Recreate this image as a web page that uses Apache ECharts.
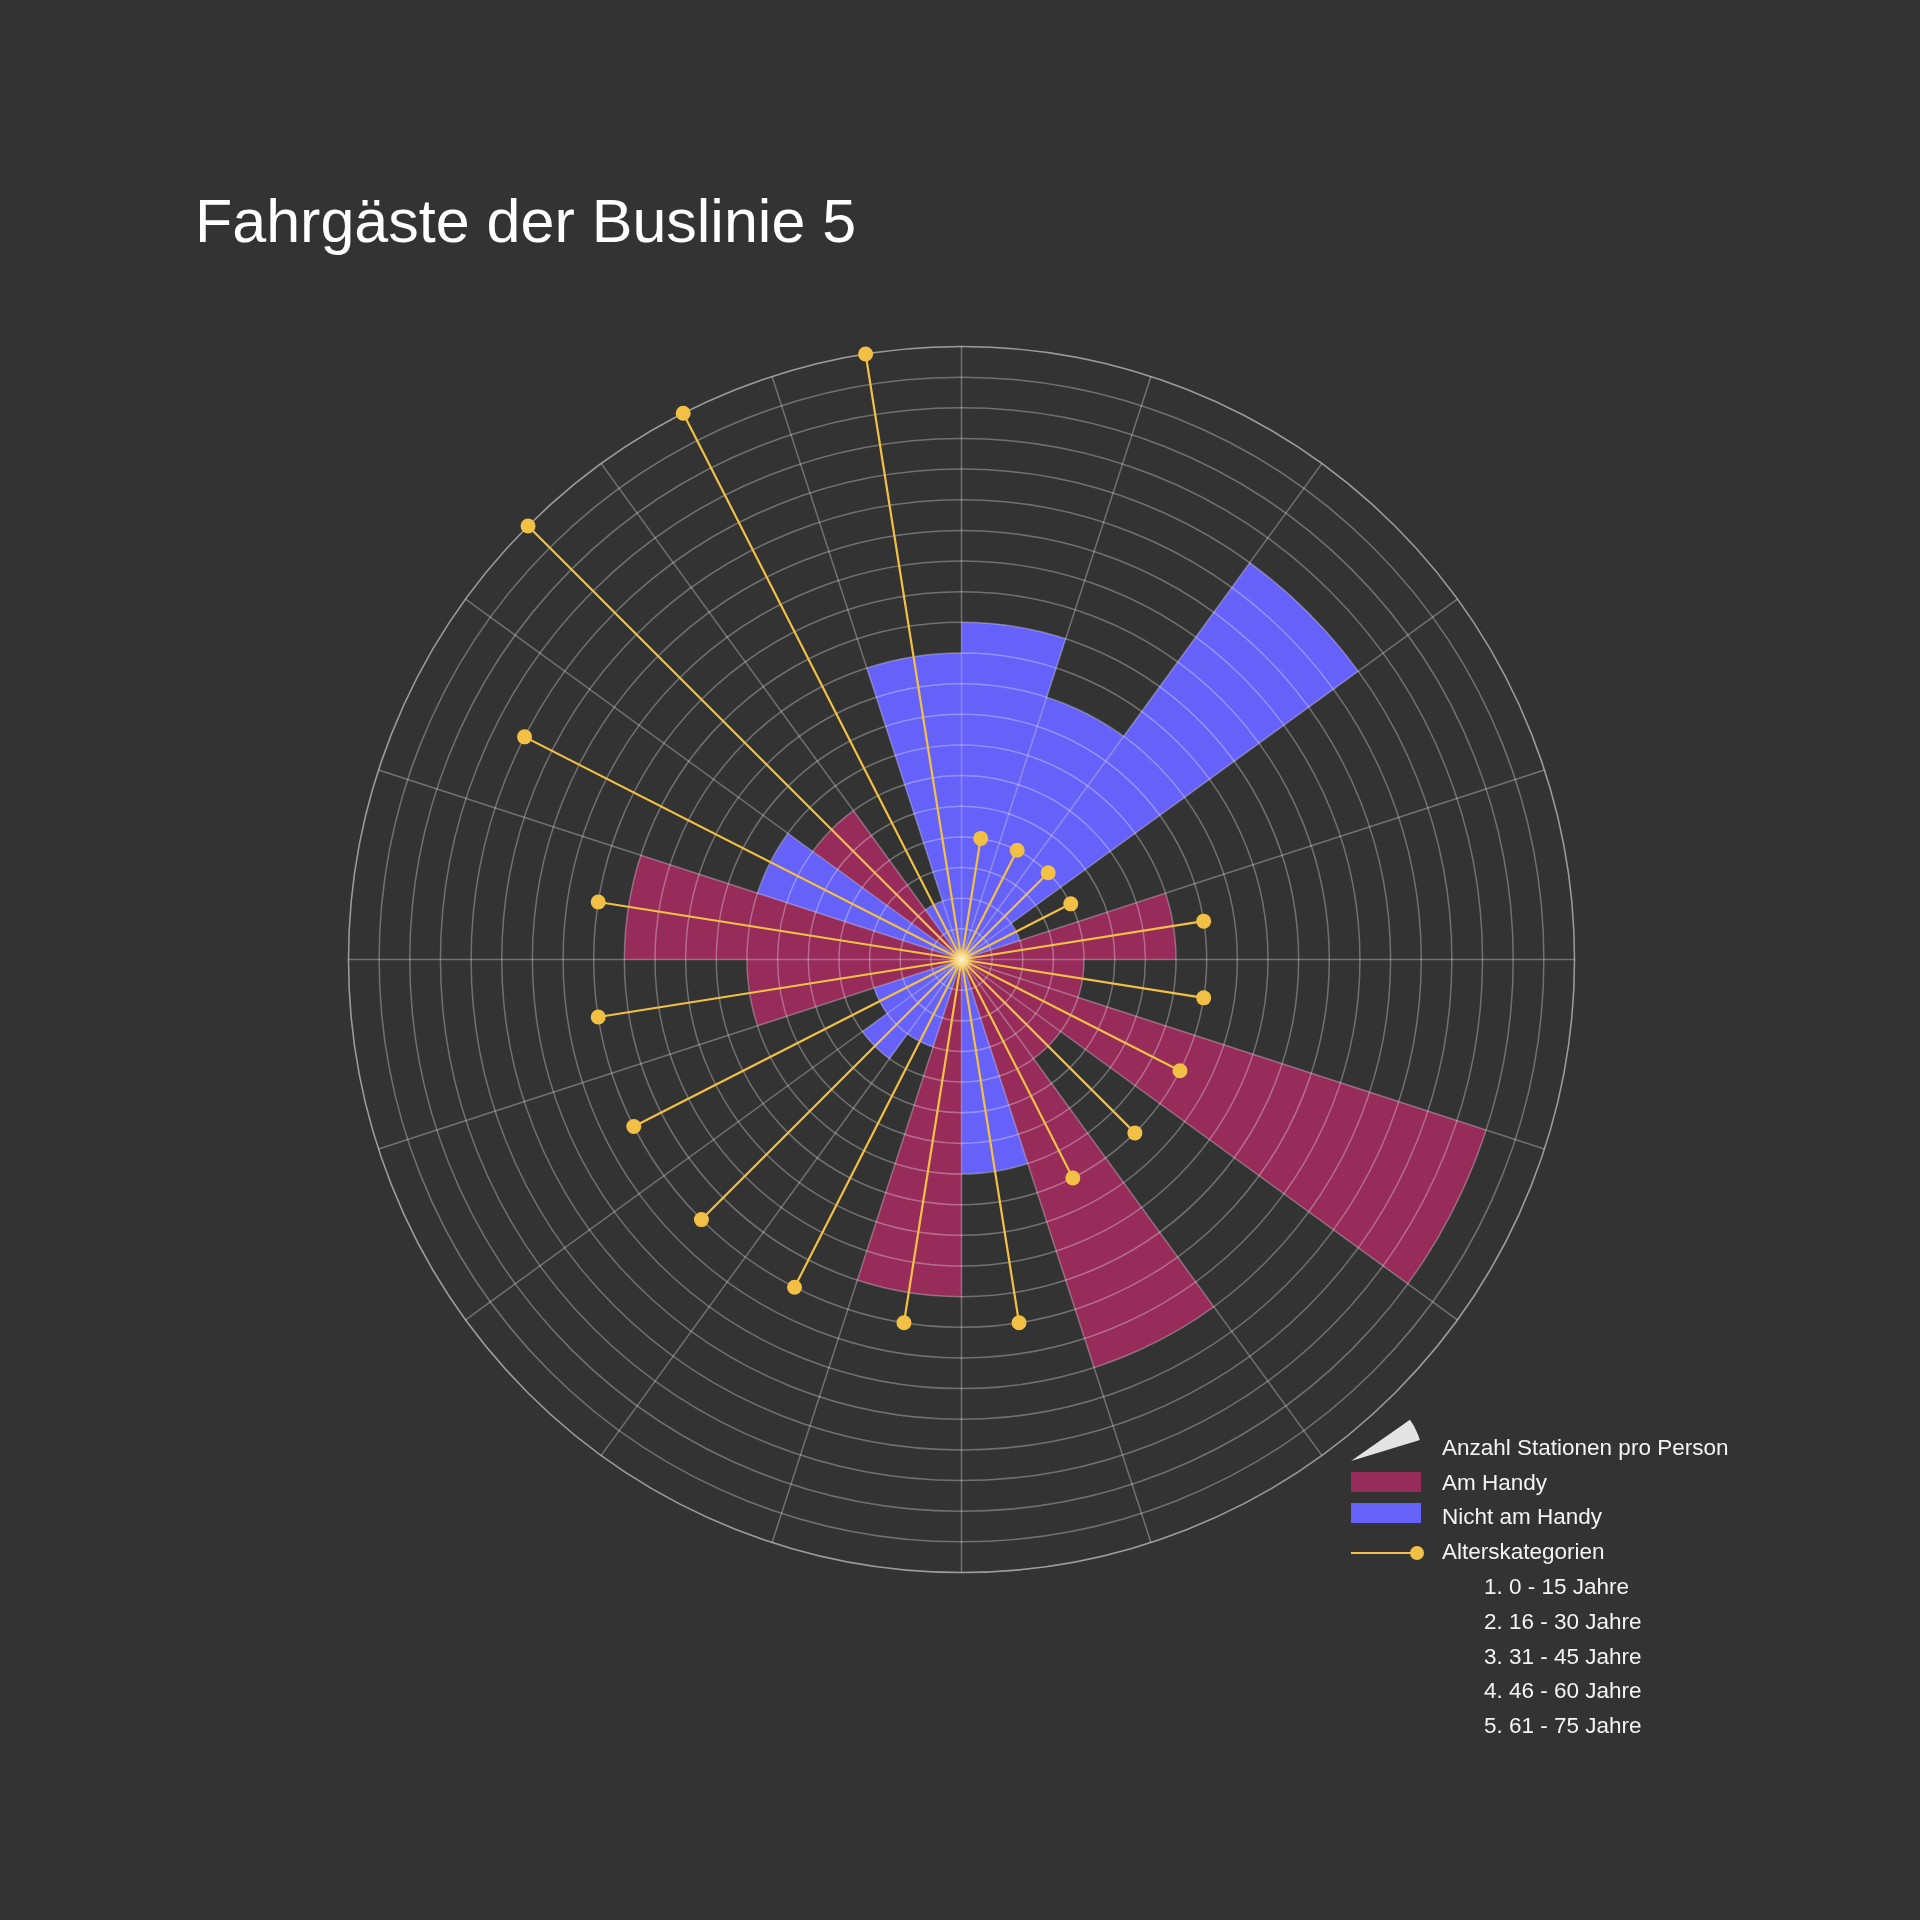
<!DOCTYPE html>
<html>
<head>
<meta charset="utf-8">
<script src="https://cdn.jsdelivr.net/npm/echarts@6/dist/echarts.min.js"></script>
<style>
  html, body { margin: 0; padding: 0; background: #333333; }
  #chart { width: 1920px; height: 1920px; }
</style>
</head>
<body>
<div id="chart"></div>
<script>
// ---- data ----
const titleText = 'Fahrgäste der Buslinie 5';
const categories = ['1','2','3','4','5','6','7','8','9','10','11','12','13','14','15','16','17','18','19','20'];
// Anzahl Stationen pro Person, split by whether the person was on the phone
const amHandy      = ['-','-','-','-', 7, 4, 18, 4, 14,'-', 11,'-','-','-', 7, 11,'-', 6,'-','-'];
const nichtAmHandy = [11, 9, 16, 2,'-','-','-','-','-', 7,'-', 3, 4, 3,'-','-', 7,'-', 2, 10];
// Alterskategorie (1..5) per person
const alterskategorie = [1,1,1,1,2,2,2,2,2,3,3,3,3,3,3,3,4,5,5,5];
const stationsMax = 20;
const ageMax = 5;
const legendLabels = ['Anzahl Stationen pro Person', 'Am Handy', 'Nicht am Handy', 'Alterskategorien'];
const ageLabels = ['1. 0 - 15 Jahre', '2. 16 - 30 Jahre', '3. 31 - 45 Jahre', '4. 46 - 60 Jahre', '5. 61 - 75 Jahre'];

// ---- style ----
const RED = '#972c5b';
const BLUE = '#6661f8';
const YELLOW = '#f1c045';
const GRID = 'rgba(255,255,255,0.30)';
const TEXT = '#f4f4f4';
const FONT = '"Liberation Sans", Arial, Helvetica, sans-serif';
const CENTER = [961.5, 959.5];
const RADIUS = 613;

// lollipop polyline: center -> tip -> center -> next tip ...
const lollipopData = [];
categories.forEach((c, i) => {
  lollipopData.push({ value: [0, c], symbol: 'none' });
  lollipopData.push({ value: [alterskategorie[i], c], symbol: 'circle' });
});

const chart = echarts.init(document.getElementById('chart'), null, { renderer: 'canvas' });

// legend built as graphic elements
const lgX = 1351, txtX = 1442, subX = 1484;
const rowY = [1449, 1484, 1518, 1553];
const subY = [1588, 1623, 1658, 1692, 1727];
const graphics = [
  { type: 'sector', shape: { cx: lgX, cy: 1461, r0: 0, r: 72, startAngle: -35 * Math.PI / 180, endAngle: -17 * Math.PI / 180 }, style: { fill: '#e4e4e4' } },
  { type: 'rect', shape: { x: lgX, y: 1472, width: 70, height: 20 }, style: { fill: RED } },
  { type: 'rect', shape: { x: lgX, y: 1503, width: 70, height: 20 }, style: { fill: BLUE } },
  { type: 'line', shape: { x1: lgX, y1: 1553, x2: 1416, y2: 1553 }, style: { stroke: YELLOW, lineWidth: 2.2 } },
  { type: 'circle', shape: { cx: 1417, cy: 1553, r: 7 }, style: { fill: YELLOW } }
];
legendLabels.forEach((t, i) => {
  graphics.push({ type: 'text', x: txtX, y: rowY[i], style: { text: t, fill: TEXT, font: '22.5px ' + FONT, verticalAlign: 'middle', align: 'left' } });
});
ageLabels.forEach((t, i) => {
  graphics.push({ type: 'text', x: subX, y: subY[i], style: { text: t, fill: TEXT, font: '22.5px ' + FONT, verticalAlign: 'middle', align: 'left' } });
});

const hiddenAxis = { show: false };

chart.setOption({
  backgroundColor: '#333333',
  animation: false,
  title: {
    text: titleText,
    left: 195,
    top: 195,
    padding: 0,
    textStyle: { color: '#ffffff', fontSize: 61, fontWeight: 'normal', fontFamily: FONT }
  },
  polar: [
    { center: CENTER, radius: RADIUS },
    { center: CENTER, radius: RADIUS }
  ],
  angleAxis: [
    {
      polarIndex: 0,
      type: 'category',
      data: categories,
      startAngle: 90,
      clockwise: true,
      boundaryGap: true,
      z: 4,
      axisLine: { show: true, lineStyle: { color: GRID, width: 1.5 } },
      axisTick: { show: false },
      axisLabel: { show: false },
      splitLine: { show: true, interval: 0, lineStyle: { color: GRID, width: 1.5 } }
    },
    {
      polarIndex: 1,
      type: 'category',
      data: categories,
      startAngle: 90,
      clockwise: true,
      boundaryGap: true,
      axisLine: hiddenAxis, axisTick: hiddenAxis, axisLabel: hiddenAxis, splitLine: hiddenAxis
    }
  ],
  radiusAxis: [
    {
      polarIndex: 0,
      type: 'value',
      min: 0,
      max: stationsMax,
      interval: 1,
      z: 4,
      axisLine: { show: false },
      axisTick: { show: false },
      axisLabel: { show: false },
      splitLine: { show: true, lineStyle: { color: GRID, width: 1.5 } }
    },
    {
      polarIndex: 1,
      type: 'value',
      min: 0,
      max: ageMax,
      axisLine: hiddenAxis, axisTick: hiddenAxis, axisLabel: hiddenAxis, splitLine: hiddenAxis
    }
  ],
  graphic: { elements: graphics },
  series: [
    {
      name: 'Am Handy',
      type: 'bar',
      coordinateSystem: 'polar',
      polarIndex: 0,
      stack: 'stationen',
      data: amHandy,
      barCategoryGap: '0%',
      z: 2,
      itemStyle: { color: RED, borderWidth: 0 }
    },
    {
      name: 'Nicht am Handy',
      type: 'bar',
      coordinateSystem: 'polar',
      polarIndex: 0,
      stack: 'stationen',
      data: nichtAmHandy,
      barCategoryGap: '0%',
      z: 2,
      itemStyle: { color: BLUE, borderWidth: 0 }
    },
    {
      name: 'Alterskategorien',
      type: 'line',
      coordinateSystem: 'polar',
      polarIndex: 1,
      data: lollipopData,
      symbolSize: 15,
      showAllSymbol: true,
      clip: false,
      z: 10,
      lineStyle: { color: YELLOW, width: 2.2 },
      itemStyle: { color: YELLOW }
    },
    {
      name: 'glow',
      type: 'scatter',
      coordinateSystem: 'polar',
      polarIndex: 1,
      data: [[0, categories[0]]],
      symbolSize: 26,
      z: 11,
      silent: true,
      itemStyle: {
        color: {
          type: 'radial', x: 0.5, y: 0.5, r: 0.5,
          colorStops: [
            { offset: 0, color: 'rgba(255,255,255,1)' },
            { offset: 0.35, color: 'rgba(255,240,200,0.8)' },
            { offset: 1, color: 'rgba(255,220,120,0)' }
          ]
        }
      }
    }
  ]
});
</script>
</body>
</html>
